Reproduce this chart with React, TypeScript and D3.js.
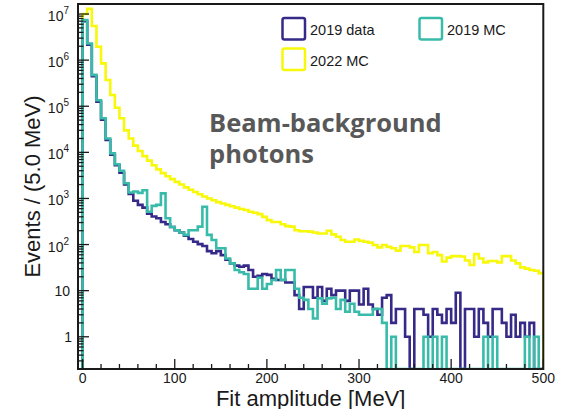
import React, { useEffect, useRef } from "react";
import * as d3 from "d3";

// 5 MeV bins, 0..500 MeV (100 bins)
const binWidth = 5;
const binEdges = d3.range(0, 500 + binWidth, binWidth);

const data2019 = [7.0e6, 2.15e6, 4.5e5, 1.25e5, 5.1e4, 1.85e4, 8900, 5250, 3600, 2000,
  1260, 890, 724, 631, 468, 407, 372, 309, 275, 240,
  204, 182, 155, 132, 115, 102, 93, 72, 65, 72,
  59, 47, 39, 35, 33, 35, 28, 20, 21, 23,
  22, 18, 17, 17, 15, 15, 8, 4, 12, 12,
  7, 12, 6, 11, 8, 10, 10, 6, 10, 10,
  5, 11, 5, 4, 3, 7, 8, 2, 4, 4,
  1, 0, 4, 4, 3, 1, 4, 3, 2, 4,
  2, 9, 0, 4, 4, 1, 4, 2, 1, 4,
  4, 2, 1, 3, 1, 2, 1, 2, 0, 0];

const mc2019 = [7.4e6, 2.3e6, 4.8e5, 1.35e5, 5.5e4, 2.0e4, 9500, 5500, 4000, 2140,
  1350, 1410, 1320, 1510, 513, 690, 724, 1290, 372, 240,
  204, 182, 162, 204, 204, 245, 660, 162, 126, 83,
  83, 50, 39, 28, 25, 23, 11, 11, 19, 11,
  14, 17, 28, 17, 28, 28, 11, 7, 6.3, 4,
  2.5, 6.8, 5.2, 6.8, 7, 4, 6.3, 3.5, 5.2, 3.5,
  3, 3, 3, 4, 4, 2, 0, 1, 0, 0,
  0, 0, 0, 0, 1, 0, 1, 0, 1, 0,
  0, 0, 0, 0, 0, 0, 0, 1, 0, 1,
  0, 0, 0, 0, 0, 0, 1, 0, 1, 0];

const mc2022 = [1.0e7, 1.3e7, 5.5e6, 1.95e6, 8.5e5, 3.7e5, 1.75e5, 9.3e4, 5.5e4, 3.0e4,
  2.0e4, 1.4e4, 1.07e4, 8300, 6600, 5250, 4270, 3550, 3020, 2630,
  2290, 2000, 1740, 1550, 1380, 1230, 1100, 1000, 912, 832,
  776, 724, 676, 631, 589, 562, 513, 490, 457, 398,
  339, 309, 309, 275, 251, 245, 204, 195, 195, 191,
  182, 174, 174, 200, 166, 148, 126, 115, 115, 129,
  120, 115, 110, 98, 87, 98, 89, 83, 74, 93,
  93, 87, 69, 98, 98, 65, 69, 59, 43, 52,
  56, 56, 55, 45, 36, 62, 50, 41, 44, 44,
  41, 56, 56, 45, 39, 32, 30, 28, 27, 24];

const seriesNames = ["2019 data", "2019 MC", "2022 MC"];
const seriesColors = ["#352a87", "#38bca9", "#f7f80a"];
const xTicks = [0, 100, 200, 300, 400, 500];
const yDecades = [0, 1, 2, 3, 4, 5, 6, 7];

const W = 565, H = 409;
const left = 78, right = 543.3, top = 4, bottom = 369;

function drawChart(el) {
  const svg = d3.select(el);
  svg.selectAll("*").remove();

  const x = d3.scaleLinear().domain([-5, 500]).range([left, right]);
  const y = d3.scaleLog().domain([0.2, 1.65e7]).range([bottom, top]);
  const yv = v => (v > 0.2 ? y(v) : bottom);

  svg.append("defs").append("clipPath").attr("id", "frame-clip")
    .append("rect").attr("x", left).attr("y", top)
    .attr("width", right - left).attr("height", bottom - top);

  // histograms: yellow behind, then data, then 2019 MC on top
  const line = d3.line().curve(d3.curveStepAfter).x(d => x(d[0])).y(d => d[1]);
  const histPoints = vals => {
    const pts = [[0, bottom + 2]];
    vals.forEach((v, i) => pts.push([binEdges[i], yv(v)]));
    pts.push([500, yv(vals[vals.length - 1])]);
    pts.push([500, bottom + 2]);
    return pts;
  };
  const hists = [
    { vals: mc2022, color: seriesColors[2] },
    { vals: data2019, color: seriesColors[0] },
    { vals: mc2019, color: seriesColors[1] },
  ];
  const g = svg.append("g").attr("clip-path", "url(#frame-clip)");
  hists.forEach(h => {
    g.append("path")
      .attr("d", line(histPoints(h.vals)))
      .attr("fill", "none")
      .attr("stroke", h.color)
      .attr("stroke-width", 2.6)
      .attr("stroke-linejoin", "miter");
  });

  // frame
  svg.append("rect")
    .attr("x", left).attr("y", top)
    .attr("width", right - left).attr("height", bottom - top)
    .attr("fill", "none").attr("stroke", "#1a1a1a").attr("stroke-width", 2);

  // x ticks (inward)
  const xt = svg.append("g").attr("stroke", "#1a1a1a").attr("stroke-width", 1.3);
  d3.range(0, 501, 20).forEach(v => {
    const major = v % 100 === 0;
    xt.append("line")
      .attr("x1", x(v)).attr("x2", x(v))
      .attr("y1", bottom).attr("y2", bottom - (major ? 10 : 5));
  });
  svg.append("g")
    .attr("font-family", "'Liberation Sans', Arial, sans-serif")
    .attr("font-size", 14).attr("fill", "#1a1a1a").attr("text-anchor", "middle")
    .selectAll("text").data(xTicks).join("text")
    .attr("x", d => x(d)).attr("y", 382.5)
    .text(d => d);

  // y ticks (inward, log)
  const yt = svg.append("g").attr("stroke", "#1a1a1a").attr("stroke-width", 1.3);
  for (let d = -1; d <= 7; d++) {
    for (let k = 1; k <= 9; k++) {
      const v = k * Math.pow(10, d);
      if (v < 0.2 || v > 1.65e7) continue;
      yt.append("line")
        .attr("x1", left).attr("x2", left + (k === 1 ? 11 : 5.5))
        .attr("y1", y(v)).attr("y2", y(v));
    }
  }
  const yl = svg.append("g")
    .attr("font-family", "'Liberation Sans', Arial, sans-serif")
    .attr("font-size", 14).attr("fill", "#1a1a1a").attr("text-anchor", "end");
  yDecades.forEach(d => {
    const ty = y(Math.pow(10, d));
    if (d === 0) {
      yl.append("text").attr("x", 72).attr("y", ty + 5).text("1");
    } else if (d === 1) {
      yl.append("text").attr("x", 70).attr("y", ty + 5).text("10");
    } else {
      const t = yl.append("text").attr("x", 69).attr("y", ty + 7);
      t.append("tspan").text("10");
      t.append("tspan").attr("font-size", 10).attr("dy", -7).text(d);
    }
  });

  // axis titles
  svg.append("text")
    .attr("x", (left + right) / 2).attr("y", 405.5)
    .attr("text-anchor", "middle")
    .attr("font-family", "'Liberation Sans', Arial, sans-serif")
    .attr("font-size", 22).attr("fill", "#1a1a1a")
    .text("Fit amplitude [MeV]");
  svg.append("text")
    .attr("transform", `translate(40,${(top + bottom) / 2}) rotate(-90)`)
    .attr("text-anchor", "middle")
    .attr("font-family", "'Liberation Sans', Arial, sans-serif")
    .attr("font-size", 22).attr("fill", "#1a1a1a")
    .text("Events / (5.0 MeV)");

  // legend
  const legendPos = [[282.5, 18], [419.5, 18], [282.5, 48.5]];
  const lg = svg.append("g")
    .attr("font-family", "'Liberation Sans', Arial, sans-serif")
    .attr("font-size", 14.5).attr("fill", "#1a1a1a");
  seriesNames.forEach((name, i) => {
    const [lx, ly] = legendPos[i];
    lg.append("rect")
      .attr("x", lx).attr("y", ly).attr("width", 22.5).attr("height", 21.5)
      .attr("rx", 2).attr("fill", "white")
      .attr("stroke", seriesColors[i]).attr("stroke-width", 2.5);
    lg.append("text").attr("x", lx + 27.5).attr("y", ly + 17).text(name);
  });

  // annotation
  const ann = svg.append("g")
    .attr("font-family", "'Open Sans', sans-serif")
    .attr("font-weight", 700).attr("font-size", 25.5).attr("fill", "#585858");
  ann.append("text").attr("x", 209).attr("y", 131.5).text("Beam-background");
  ann.append("text").attr("x", 209).attr("y", 163).text("photons");
}

const App = () => {
  const ref = useRef(null);
  useEffect(() => {
    drawChart(ref.current);
  }, []);
  return (
    <div>
      <svg ref={ref} width={W} height={H}
        style={{ position: "absolute", left: 0, top: 0, background: "white" }} />
    </div>
  );
};

export default App;
